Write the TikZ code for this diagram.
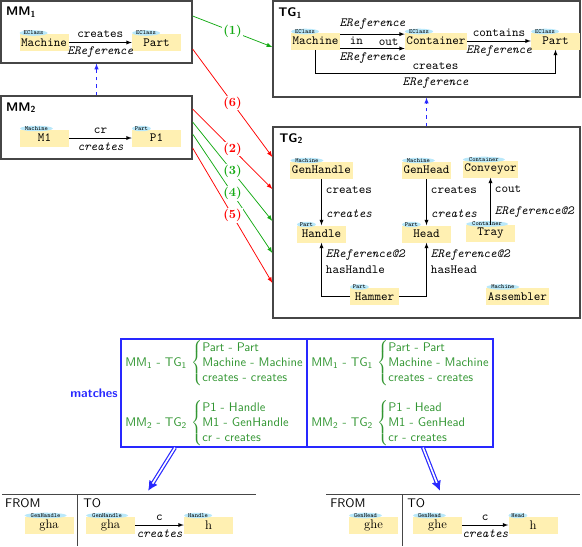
\documentclass[tikz,border=0pt]{standalone}
\usetikzlibrary{shapes.geometric,fit,arrows.meta}

\begin{document}
\begin{tikzpicture}[x=0.8pt,y=-0.8pt,
    every node/.style={font=\ttfamily},
    caja/.style={draw=bordegris, line width=1pt, inner sep=0pt},
    titulo/.style={font=\sffamily\bfseries, anchor=base west, inner sep=0pt},
    objeto/.style={fill=amarillo, minimum width=39.2pt, minimum height=13.6pt,
                   inner xsep=1.2pt, inner ysep=0pt, font=\ttfamily},
    etiqueta/.style={ellipse, fill=celeste, inner sep=0pt, font=\tiny\ttfamily, anchor=west},
    ref/.style={-latex, line width=0.5pt},
    ital/.style={font=\ttfamily\itshape},
    herencia/.style={-latex, draw=azul, dashed, line width=0.6pt},
    corresp/.style={-latex, line width=0.6pt},
    num/.style={fill=white, inner sep=1pt, font=\rmfamily\bfseries},
    match/.style={draw=azul, line width=1pt, inner sep=0pt},
    matchtxt/.style={font=\sffamily, text=verdetxt, anchor=west, inner sep=0pt},
    doble/.style={draw=azul, line width=3.2pt, -{Latex[length=8pt,width=8pt]}},
    doblein/.style={draw=white, line width=1.3pt, shorten >=7pt},
    tabla/.style={draw=bordegris, line width=0.8pt}
  ]

  % colores
  \definecolor{amarillo}{RGB}{255,240,178}
  \definecolor{celeste}{RGB}{185,232,250}
  \definecolor{bordegris}{RGB}{70,70,70}
  \definecolor{verde}{RGB}{20,170,20}
  \definecolor{verdetxt}{RGB}{50,150,50}
  \definecolor{rojo}{RGB}{255,0,0}
  \definecolor{azul}{RGB}{40,40,255}

  % objeto con su etiqueta de clase
  \def\obj#1#2#3#4{%
    \node[objeto] (#1) at (#2) {#3};
    \node[etiqueta] (#1-tag) at ([yshift=0.6pt]#1.north west) {#4};}

  \useasboundingbox (0,0) rectangle (582,546);

  % --- Metamodelo MM1 ---
  \node[caja, fit={(1,1) (192,63)}] (mm1) {};
  \node[titulo] (mm1-tit) at (6,16) {MM\textsubscript{1}};
  \obj{mach1}{44,42.5}{Machine}{EClass}
  \obj{part1}{156.5,42.5}{Part}{EClass}
  \draw[ref] (mach1) -- (part1) node[midway,above]{creates} node[midway,below,ital]{EReference};

  % --- Metamodelo MM2 ---
  \node[caja, fit={(1,96) (192,159)}] (mm2) {};
  \node[titulo] (mm2-tit) at (6,111) {MM\textsubscript{2}};
  \obj{m1}{44.5,138}{M1}{Machine}
  \obj{p1}{156.5,138}{P1}{Part}
  \draw[ref] (m1) -- (p1) node[midway,above]{cr} node[midway,below,ital]{creates};
  \draw[herencia] (mm2) -- (mm1);

  % --- Grafo TG1 ---
  \node[caja, fit={(273,1) (580,97)}] (tg1) {};
  \node[titulo] (tg1-tit) at (278,17) {TG\textsubscript{1}};
  \obj{tmach}{315.5,41}{Machine}{EClass}
  \obj{tcont}{436,41}{Container}{EClass}
  \obj{tpart}{555.5,41}{Part}{EClass}
  \draw[ref] ([yshift=-1.5pt]tmach.north east) -- ([yshift=-1.5pt]tcont.north west)
        node[midway,above,ital]{EReference} node[pos=0.75,below]{out};
  \draw[ref] ([yshift=1pt]tmach.south east) -- ([yshift=1pt]tcont.south west)
        node[pos=0.25,above]{in} node[midway,below,ital]{EReference};
  \draw[ref] (tcont) -- (tpart) node[midway,above]{contains} node[midway,below,ital]{EReference};
  \draw[ref] (tmach.south) -- ++(0,24) -| (tpart.south)
        node[pos=0.25,above]{creates} node[pos=0.25,below,ital]{EReference};

  % --- Grafo TG2 ---
  \node[caja, fit={(273,127) (580,318)}] (tg2) {};
  \node[titulo] (tg2-tit) at (279,142) {TG\textsubscript{2}};
  \obj{genhandle}{321.5,170}{GenHandle}{Machine}
  \obj{genhead}{426.5,170}{GenHead}{Machine}
  \obj{conveyor}{490.5,169}{Conveyor}{Container}
  \obj{handle}{321.5,234}{Handle}{Part}
  \obj{head}{426.5,234}{Head}{Part}
  \obj{tray}{490.5,233.5}{Tray}{Container}
  \obj{hammer}{374.5,296.5}{Hammer}{Part}
  \obj{assembler}{517.5,296.5}{Assembler}{Machine}
  \draw[ref] (genhandle) -- (handle) node[pos=0.25,right]{creates} node[pos=0.75,right,ital]{creates};
  \draw[ref] (genhead) -- (head) node[pos=0.25,right]{creates} node[pos=0.75,right,ital]{creates};
  \draw[ref] (tray) -- (conveyor) node[pos=0.75,right]{cout} node[pos=0.28,right,ital]{EReference@2};
  \draw[ref] (hammer) -| (handle) node[pos=0.89,right,ital]{EReference@2} node[pos=0.75,right]{hasHandle};
  \draw[ref] (hammer) -| (head) node[pos=0.89,right,ital]{EReference@2} node[pos=0.75,right]{hasHead};
  \draw[herencia] (tg2) -- (tg1);

  % --- Correspondencias (1)-(6) ---
  \draw[corresp, verde] (mm1.east |- 0,16) -- (tg1.west |- 0,47) node[num, midway]{(1)};
  \draw[corresp, rojo] (mm1.east |- 0,49) -- (tg2.west |- 0,157) node[num, midway]{(6)};
  \draw[corresp, rojo] (mm2.east |- 0,109) -- (tg2.west |- 0,189) node[num, midway]{(2)};
  \draw[corresp, verde] (mm2.east |- 0,122) -- (tg2.west |- 0,221) node[num, midway]{(3)};
  \draw[corresp, verde] (mm2.east |- 0,134) -- (tg2.west |- 0,253) node[num, midway]{(4)};
  \draw[corresp, rojo] (mm2.east |- 0,148) -- (tg2.west |- 0,283) node[num, midway]{(5)};

  % --- Matches ---
  \node[match, fit={(121,339) (306.6,447)}] (matchL) {};
  \node[match, fit={(307.4,339) (493,447)}] (matchR) {};
  \node[font=\sffamily\bfseries, text=azul, anchor=east, inner sep=2pt] (matches) at (matchL.west) {matches};
  \node[matchtxt] (mL1) at (125,363) {MM\textsubscript{1} - TG\textsubscript{1}
    $\left\{\begin{tabular}{@{}l@{}}Part - Part\\Machine - Machine\\creates - creates\end{tabular}\right.$};
  \node[matchtxt] (mL2) at (125,423) {MM\textsubscript{2} - TG\textsubscript{2}
    $\left\{\begin{tabular}{@{}l@{}}P1 - Handle\\M1 - GenHandle\\cr - creates\end{tabular}\right.$};
  \node[matchtxt] (mR1) at (311,363) {MM\textsubscript{1} - TG\textsubscript{1}
    $\left\{\begin{tabular}{@{}l@{}}Part - Part\\Machine - Machine\\creates - creates\end{tabular}\right.$};
  \node[matchtxt] (mR2) at (311,423) {MM\textsubscript{2} - TG\textsubscript{2}
    $\left\{\begin{tabular}{@{}l@{}}P1 - Head\\M1 - GenHead\\cr - creates\end{tabular}\right.$};

  % flechas dobles hacia los resultados
  \coordinate (resL) at (148,491);
  \coordinate (resR) at (440,491);
  \draw[doble] (matchL.south -| 175,0) -- (resL);
  \draw[doblein] (matchL.south -| 175,0) -- (resL);
  \draw[doble] (matchR.south -| 423,0) -- (resR);
  \draw[doblein] (matchR.south -| 423,0) -- (resR);

  % --- Resultado izquierdo ---
  \draw[tabla] (2,494) -- (256,494);
  \draw[tabla] (77,494) -- (77,546);
  \node[font=\sffamily, anchor=base west, inner sep=0pt] (fromL) at (5,507) {FROM};
  \node[font=\sffamily, anchor=base west, inner sep=0pt] (toL) at (83,507) {TO};
  \obj{ghaF}{49,525}{\rmfamily gha}{GenHandle}
  \obj{ghaT}{110.5,525}{\rmfamily gha}{GenHandle}
  \obj{hL}{208.5,525}{\rmfamily h}{Handle}
  \draw[ref] (ghaT) -- (hL) node[midway,above]{c} node[midway,below,ital]{creates};

  % --- Resultado derecho ---
  \draw[tabla] (326,494) -- (580,494);
  \draw[tabla] (402,494) -- (402,546);
  \node[font=\sffamily, anchor=base west, inner sep=0pt] (fromR) at (330,507) {FROM};
  \node[font=\sffamily, anchor=base west, inner sep=0pt] (toR) at (407,507) {TO};
  \obj{gheF}{373.5,525}{\rmfamily ghe}{GenHead}
  \obj{gheT}{437.5,525}{\rmfamily ghe}{GenHead}
  \obj{hR}{533,525}{\rmfamily h}{Head}
  \draw[ref] (gheT) -- (hR) node[midway,above]{c} node[midway,below,ital]{creates};

\end{tikzpicture}
\end{document}
